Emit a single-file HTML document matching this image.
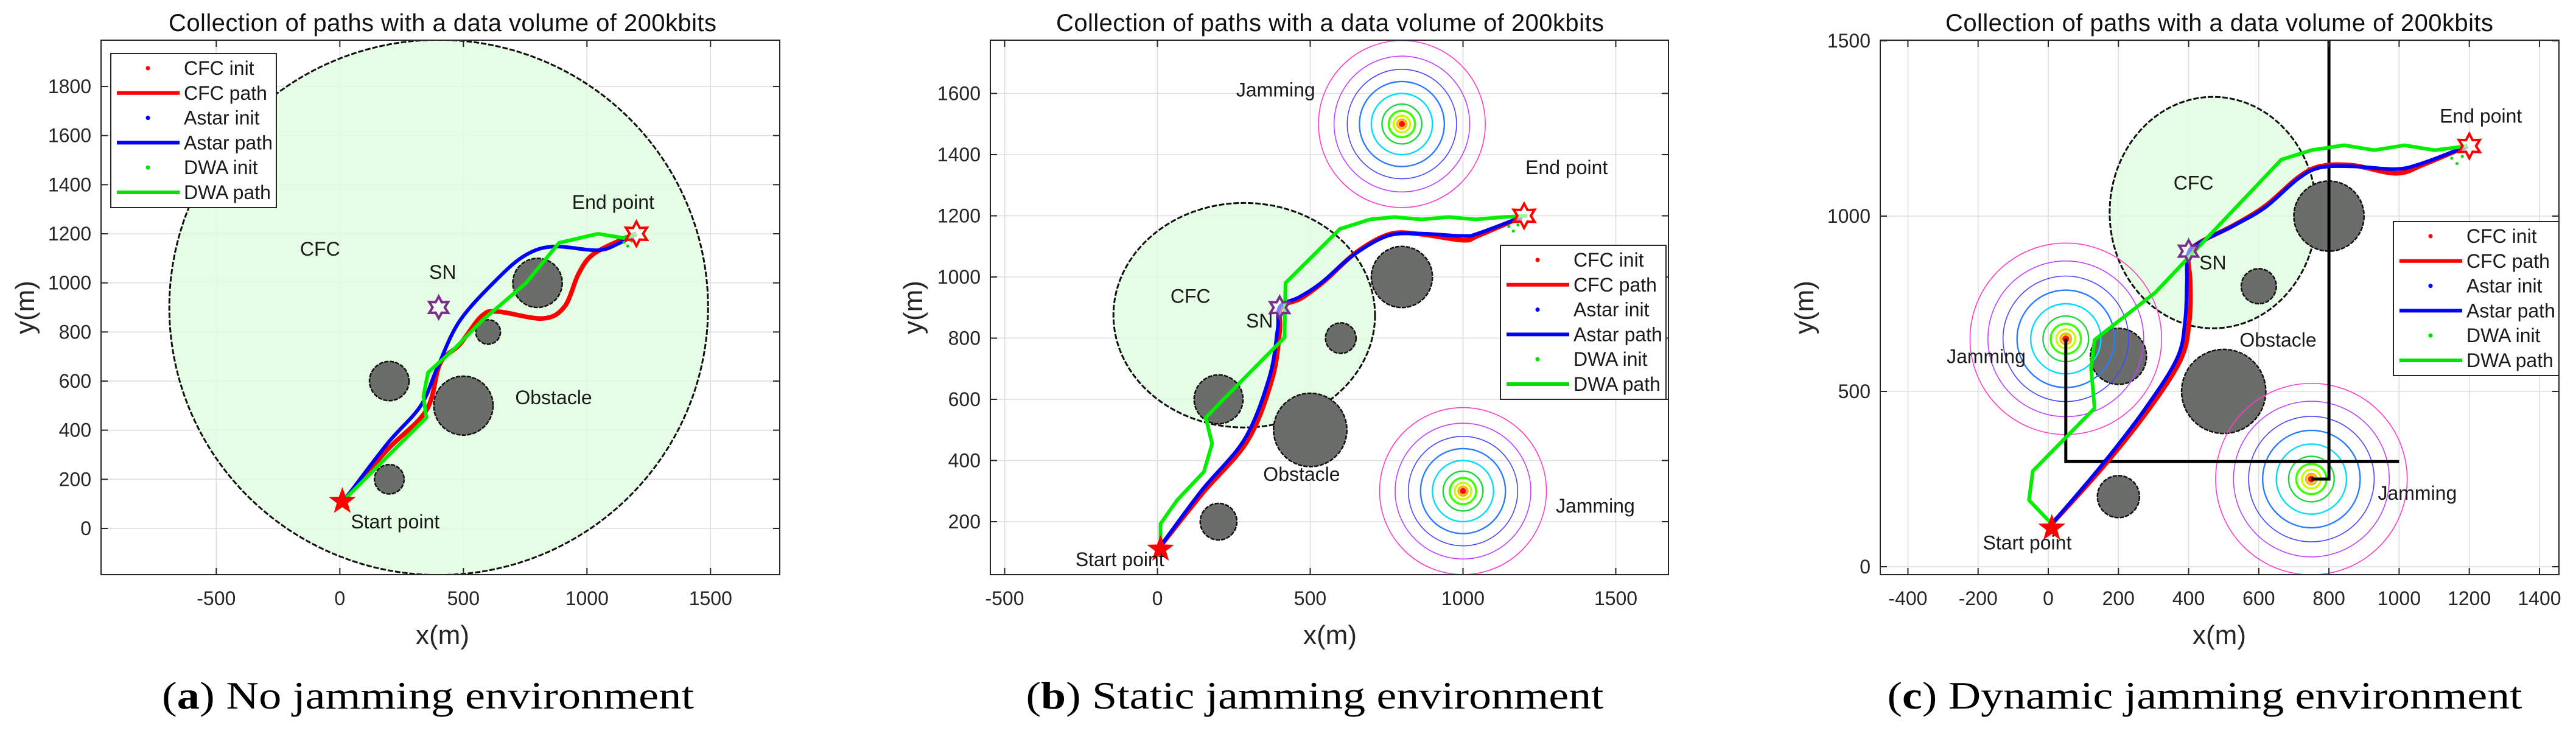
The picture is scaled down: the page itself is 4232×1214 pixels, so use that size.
<!DOCTYPE html>
<html><head><meta charset="utf-8"><style>
html,body{margin:0;padding:0;background:#fff;}
svg{display:block;font-family:"Liberation Sans",Arial,sans-serif;}
</style></head><body>
<svg id="fig" width="4232" height="1214" viewBox="0 0 4232 1214" xmlns="http://www.w3.org/2000/svg"></svg>
<script>
// ---------- Panel A data ----------
const aXTicks=[-500,0,500,1000,1500];
const aYTicks=[0,200,400,600,800,1000,1200,1400,1600,1800];
const aObsX=[500,800,200,600,200], aObsY=[500,1000,600,800,200], aObsR=[120,100,80,50,60];
const aCfcX=[400], aCfcY=[900], aCfcRX=[1090], aCfcRY=[1090];
const aCfcPathX=[25,192,350,406,485,574,640,820,909,966,1022,1133,1200];
const aCfcPathY=[124,320,481,672,749,865,883,855,903,1037,1114,1173,1200];
const aAstarX=[25,192,327,394,485,640,753,865,1044,1133,1200];
const aAstarY=[124,345,499,653,845,1019,1114,1148,1133,1163,1200];
const aDwaX=[25,350,338,357,461,574,753,887,1044,1155,1200];
const aDwaY=[124,451,538,635,729,845,999,1163,1200,1182,1200];
const aJamX=[], aJamY=[];
// ---------- Panel B data ----------
const bXTicks=[-500,0,500,1000,1500];
const bYTicks=[200,400,600,800,1000,1200,1400,1600];
const bObsX=[500,800,200,600,200], bObsY=[500,1000,600,800,200], bObsR=[120,100,80,50,60];
const bCfcX=[284], bCfcY=[875], bCfcRX=[428], bCfcRY=[367];
const bCfcPathX=[10,150,295,375,400,405,470,545,650,760,860,1000,1050,1192];
const bCfcPathY=[120,296,465,665,820,900,930,985,1080,1140,1140,1120,1135,1196];
const bAstarX=[10,144,286,366,393,401,464,535,642,752,855,998,1049,1192];
const bAstarY=[120,301,471,671,826,903,934,980,1072,1134,1142,1134,1142,1196];
const bDwaX=[10,10,64,152,179,158,286,416,419,597,695,775,864,953,1042,1132,1211];
const bDwaY=[120,193,270,363,455,540,671,802,980,1157,1188,1196,1188,1196,1188,1196,1200];
const bJamX=[800,1000], bJamY=[1500,300];
// ---------- Panel C data ----------
const cXTicks=[-400,-200,0,200,400,600,800,1000,1200,1400];
const cYTicks=[0,500,1000,1500];
const cObsX=[500,800,200,600,200], cObsY=[500,1000,600,800,200], cObsR=[120,100,80,50,60];
const cCfcX=[470], cCfcY=[1010], cCfcRX=[295], cCfcRY=[330];
const cCfcPathX=[10,152,280,377,402,405,400,432,527,620,712,775,867,992,1072,1195];
const cCfcPathY=[122,280,440,590,700,809,890,925,973,1030,1110,1142,1145,1122,1148,1200];
const cAstarX=[10,148,273,367,390,395,398,429,523,617,710,773,867,992,1070,1195];
const cAstarY=[122,284,446,594,701,809,890,923,970,1024,1105,1138,1142,1134,1152,1200];
const cDwaX=[10,-55,-44,132,122,132,305,664,750,843,929,1015,1101,1195];
const cDwaY=[122,190,273,452,566,647,782,1161,1188,1202,1188,1202,1188,1200];
const cJamX=[50,750], cJamY=[650,250];
const cWall1X=[50,50,1000], cWall1Y=[650,300,300];
const cWall2X=[800,800,750], cWall2Y=[1500,250,250];
// shared
const ringR=[273,222,179,139,100,65,43,27,15,7];
const ringC=['#ff3cc8','#c040ff','#4646ff','#2a7cff','#00dcff','#18d840','#3cff00','#c8ff00','#ffb400','#ff2000'];
const startPt=[10,110], endPt=[1200,1200], snPt=[400,900];
const legendLabels=['CFC init','CFC path','Astar init','Astar path','DWA init','DWA path'];
const legendColors=['#ff0000','#ff0000','#0000ff','#0000ff','#00e000','#00e000'];

const NS='http://www.w3.org/2000/svg';
const svg=document.getElementById('fig');
function mk(tag,attrs,parent){const e=document.createElementNS(NS,tag);for(const k in attrs)e.setAttribute(k,attrs[k]);(parent||svg).appendChild(e);return e;}
function txt(s,attrs,parent){const e=mk('text',attrs,parent);e.textContent=s;return e;}
function smooth(pts){
  let d='M'+pts[0][0]+','+pts[0][1];
  for(let i=0;i<pts.length-1;i++){
    const p0=pts[Math.max(0,i-1)],p1=pts[i],p2=pts[i+1],p3=pts[Math.min(pts.length-1,i+2)];
    const c1=[p1[0]+(p2[0]-p0[0])/6,p1[1]+(p2[1]-p0[1])/6];
    const c2=[p2[0]-(p3[0]-p1[0])/6,p2[1]-(p3[1]-p1[1])/6];
    d+=' C'+c1[0]+','+c1[1]+' '+c2[0]+','+c2[1]+' '+p2[0]+','+p2[1];
  }
  return d;
}
function starPts(cx,cy,n,ro,ri){const p=[];for(let i=0;i<2*n;i++){const a=-Math.PI/2+i*Math.PI/n;const r=i%2?ri:ro;p.push((cx+r*Math.cos(a)).toFixed(1)+','+(cy+r*Math.sin(a)).toFixed(1));}return p.join(' ');}

function panel(P){
  const X=v=>P.x0+v*P.sx, Y=v=>P.y0-v*P.sy;
  const g=mk('g',{});
  
  
  const cp=mk('clipPath',{id:'clip-'+P.id},g);
  mk('rect',{x:P.L,y:P.T,width:P.R-P.L,height:P.B-P.T},cp);
  mk('rect',{x:P.L,y:P.T,width:P.R-P.L,height:P.B-P.T,fill:'#fff'},g);
  const grid=mk('g',{stroke:'#dedede','stroke-width':1.6},g);
  
  
  P.xt.forEach(v=>mk('line',{x1:X(v),x2:X(v),y1:P.T,y2:P.B},grid));
  P.yt.forEach(v=>mk('line',{x1:P.L,x2:P.R,y1:Y(v),y2:Y(v)},grid));
  const pl=mk('g',{'clip-path':'url(#clip-'+P.id+')'},g);
  P.cfcX.forEach((cx,i)=>{
    const e=mk('ellipse',{cx:X(cx),cy:Y(P.cfcY[i]),rx:P.cfcRX[i]*P.sx,ry:P.cfcRY[i]*P.sy,fill:'#e0fbe0','fill-opacity':0.85,stroke:'#111','stroke-width':3,'stroke-dasharray':'9 3'},pl);
    
    
  });
  P.obsX.forEach((ox,i)=>{
    const e=mk('ellipse',{cx:X(ox),cy:Y(P.obsY[i]),rx:P.obsR[i]*P.sx,ry:P.obsR[i]*P.sy,fill:'#6a6d6a',stroke:'#111','stroke-width':2.5,'stroke-dasharray':'7 2'},pl);
    
    
  });
  P.jamX.forEach((jx,i)=>{
    const jg=mk('g',{},pl);
    
    
    ringR.forEach((r,k)=>mk('ellipse',{cx:X(jx),cy:Y(P.jamY[i]),rx:r*P.sx,ry:r*P.sy,fill:'none',stroke:ringC[k],'stroke-width':k<3?1.6:(k<6?2.4:3.5)},jg));
    mk('circle',{cx:X(jx),cy:Y(P.jamY[i]),r:3,fill:'#ff0000'},jg);
  });
  (P.walls||[]).forEach(w=>{
    const e=mk('polyline',{points:w[0].map((v,k)=>X(v)+','+Y(w[1][k])).join(' '),fill:'none',stroke:'#000','stroke-width':5},pl);
    
    
  });
  const cfc=mk('path',{d:smooth(P.cfcPX.map((v,k)=>[X(v),Y(P.cfcPY[k])])),fill:'none',stroke:'#ff0000','stroke-width':7.5,'stroke-linejoin':'round'},pl);
  
  
  const ast=mk('path',{d:smooth(P.astX.map((v,k)=>[X(v),Y(P.astY[k])])),fill:'none',stroke:'#0000ff','stroke-width':6,'stroke-linejoin':'round'},pl);
  
  
  const dwa=mk('polyline',{points:P.dwaX.map((v,k)=>X(v)+','+Y(P.dwaY[k])).join(' '),fill:'none',stroke:'#00ee00','stroke-width':6,'stroke-linejoin':'round'},pl);
  
  
  [[1150,1165],[1165,1150],[1180,1170]].forEach(p=>mk('circle',{cx:X(p[0]),cy:Y(p[1]),r:2.5,fill:'#00e000'},pl));
  const st=mk('polygon',{points:starPts(X(startPt[0]),Y(startPt[1]),5,22,9),fill:'#ff0000',stroke:'#ff0000','stroke-width':1},g);
  
  
  const en=mk('polygon',{points:starPts(X(endPt[0]),Y(endPt[1]),6,20,11),fill:'#fff','fill-opacity':0.6,stroke:'#ff0000','stroke-width':4},g);
  
  
  const sn=mk('polygon',{points:starPts(X(snPt[0]),Y(snPt[1]),6,18,10),fill:'#fff','fill-opacity':0.5,stroke:'#7a2d8c','stroke-width':4},g);
  
  
  P.labels.forEach(l=>{
    const t=txt(l[0],{x:X(l[1]),y:Y(l[2])+11,'font-size':32,fill:'#1a1a1a','text-anchor':'middle'},g);
    
    
  });
  const ax=mk('g',{stroke:'#262626','stroke-width':2},g);
  
  
  mk('rect',{x:P.L,y:P.T,width:P.R-P.L,height:P.B-P.T,fill:'none'},ax);
  P.xt.forEach(v=>{mk('line',{x1:X(v),x2:X(v),y1:P.B,y2:P.B-11},ax);mk('line',{x1:X(v),x2:X(v),y1:P.T,y2:P.T+11},ax);});
  P.yt.forEach(v=>{mk('line',{x1:P.L,x2:P.L+11,y1:Y(v),y2:Y(v)},ax);mk('line',{x1:P.R,x2:P.R-11,y1:Y(v),y2:Y(v)},ax);});
  P.xt.forEach(v=>{const t=txt(String(v),{x:X(v),y:994,'font-size':32,fill:'#262626','text-anchor':'middle'},g);
    
    });
  P.yt.forEach(v=>{const t=txt(String(v),{x:P.L-16,y:Y(v)+11,'font-size':32,fill:'#262626','text-anchor':'end'},g);
    
    });
  const ti=txt('Collection of paths with a data volume of 200kbits',{x:P.titleX,y:51,'font-size':40,fill:'#111','text-anchor':'middle',textLength:900},g);
  
  
  const xl=txt('x(m)',{x:P.titleX,y:1058,'font-size':44,fill:'#262626','text-anchor':'middle'},g);
  
  
  const yl=txt('y(m)',{x:P.ylx,y:505,'font-size':44,fill:'#262626','text-anchor':'middle',transform:'rotate(-90 '+P.ylx+' 505)',dy:15},g);
  
  
  const cap=mk('text',{x:P.capX,y:1164,'font-size':64,fill:'#000','text-anchor':'middle','font-family':'"Liberation Serif",serif',textLength:P.capW,lengthAdjust:'spacingAndGlyphs'},g);
  
  
  const b=document.createElementNS(NS,'tspan');b.setAttribute('font-weight','bold');b.textContent=P.capB;
  cap.appendChild(document.createTextNode('('));cap.appendChild(b);cap.appendChild(document.createTextNode(') '+P.capT));
  const lg=mk('g',{},g);
  
  
  mk('rect',{x:P.leg[0],y:P.leg[1],width:272,height:253,fill:'#fff',stroke:'#262626','stroke-width':2},lg);
  legendLabels.forEach((s,k)=>{
    const yy=P.leg[1]+24+k*40.8;
    const en2=mk('g',{},lg);
    
    
    if(k%2===0) mk('circle',{cx:P.leg[0]+61,cy:yy,r:3.5,fill:legendColors[k]},en2);
    else mk('line',{x1:P.leg[0]+10,x2:P.leg[0]+113,y1:yy,y2:yy,stroke:legendColors[k],'stroke-width':6},en2);
    txt(s,{x:P.leg[0]+120,y:yy+11,'font-size':32,fill:'#1a1a1a'},en2);
  });
}

panel({id:'a',x0:558.3,sx:0.406,y0:868,sy:0.4033,L:166,R:1281,T:66,B:944,xt:aXTicks,yt:aYTicks,
  obsX:aObsX,obsY:aObsY,obsR:aObsR,cfcX:aCfcX,cfcY:aCfcY,cfcRX:aCfcRX,cfcRY:aCfcRY,
  cfcPX:aCfcPathX,cfcPY:aCfcPathY,astX:aAstarX,astY:aAstarY,dwaX:aDwaX,dwaY:aDwaY,jamX:aJamX,jamY:aJamY,
  labels:[['CFC',-80,1138,'cfc-label'],['SN',416,1044,'sn-label'],['End point',1106,1329,'end-point-label'],['Obstacle',865,533,'obstacle-label'],['Start point',224,27,'start-point-label']],
  leg:[182,88],titleX:727,ylx:41,capX:703,capW:874,capB:'a',capT:'No jamming environment'});
panel({id:'b',x0:1901.5,sx:0.502,y0:957.5,sy:0.5025,L:1627,R:2741,T:66,B:944,xt:bXTicks,yt:bYTicks,
  obsX:bObsX,obsY:bObsY,obsR:bObsR,cfcX:bCfcX,cfcY:bCfcY,cfcRX:bCfcRX,cfcRY:bCfcRY,
  cfcPX:bCfcPathX,cfcPY:bCfcPathY,astX:bAstarX,astY:bAstarY,dwaX:bDwaX,dwaY:bDwaY,jamX:bJamX,jamY:bJamY,
  labels:[['Jamming',387,1612,'jamming-label'],['End point',1339,1358,'end-point-label'],['CFC',108,937,'cfc-label'],['SN',334,857,'sn-label'],['Obstacle',472,355,'obstacle-label'],['Jamming',1433,252,'jamming-label'],['Start point',-123,77,'start-point-label']],
  leg:[2465,403],titleX:2185,ylx:1500,capX:2160,capW:949,capB:'b',capT:'Static jamming environment'});
panel({id:'c',x0:3365,sx:0.5764,y0:931,sy:0.576,L:3089,R:4204,T:66,B:944,xt:cXTicks,yt:cYTicks,
  obsX:cObsX,obsY:cObsY,obsR:cObsR,cfcX:cCfcX,cfcY:cCfcY,cfcRX:cCfcRX,cfcRY:cCfcRY,
  cfcPX:cCfcPathX,cfcPY:cCfcPathY,astX:cAstarX,astY:cAstarY,dwaX:cDwaX,dwaY:cDwaY,jamX:cJamX,jamY:cJamY,
  walls:[[cWall1X,cWall1Y],[cWall2X,cWall2Y]],
  labels:[['CFC',414,1095,'cfc-label'],['SN',469,867,'sn-label'],['End point',1233,1286,'end-point-label'],['Obstacle',655,647,'obstacle-label'],['Jamming',-177,600,'jamming-label'],['Jamming',1052,210,'jamming-label'],['Start point',-60,69,'start-point-label']],
  leg:[3932,364],titleX:3646,ylx:2964,capX:3622,capW:1043,capB:'c',capT:'Dynamic jamming environment'});
</script>
</body></html>
